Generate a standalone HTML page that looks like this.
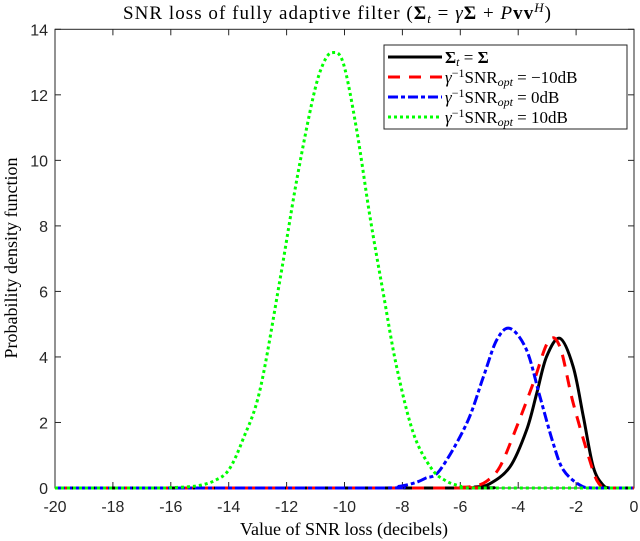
<!DOCTYPE html>
<html><head><meta charset="utf-8"><style>
body{margin:0;background:#fff;}
svg{display:block;}
text{font-family:"Liberation Sans",sans-serif;}
.serif{font-family:"Liberation Serif",serif;}
</style></head><body>
<svg id="chart" width="640" height="541" viewBox="0 0 640 541" xmlns="http://www.w3.org/2000/svg">
<rect width="640" height="541" fill="#fff"/>
<text class="serif" x="123" y="19" font-size="19" textLength="428" lengthAdjust="spacing" fill="#000">SNR loss of fully adaptive filter (<tspan font-weight="bold">Σ</tspan><tspan font-style="italic" font-size="13" dy="4">t</tspan><tspan dy="-4"> = </tspan><tspan font-style="italic">γ</tspan><tspan font-weight="bold">Σ</tspan> + <tspan font-style="italic">P</tspan><tspan font-weight="bold">vv</tspan><tspan font-style="italic" font-size="13" dy="-7">H</tspan><tspan dy="7">)</tspan></text>
<g id="axes"></g>
<g id="series"></g>
<text class="serif" x="344" y="535" font-size="18" text-anchor="middle" fill="#000">Value of SNR loss (decibels)</text>
<text class="serif" transform="translate(17,258) rotate(-90)" font-size="18" text-anchor="middle" fill="#000">Probability density function</text>
<g>
<rect x="384" y="45" width="243" height="84" fill="#fff" stroke="#262626" stroke-width="1"/>
<line x1="388" y1="57" x2="442" y2="57" stroke="#000" stroke-width="3"/>
<line x1="388" y1="77" x2="442" y2="77" stroke="#f00" stroke-width="3" stroke-dasharray="12,9"/>
<line x1="388" y1="97" x2="442" y2="97" stroke="#00f" stroke-width="3" stroke-dasharray="10,3,4,3"/>
<line x1="388" y1="117" x2="442" y2="117" stroke="#0f0" stroke-width="3" stroke-dasharray="3,3"/>
<text class="serif" x="445" y="63" font-size="17"><tspan font-weight="bold">Σ</tspan><tspan font-style="italic" font-size="12" dy="3">t</tspan><tspan dy="-3"> = </tspan><tspan font-weight="bold">Σ</tspan></text>
<text class="serif" x="445" y="83" font-size="17"><tspan font-style="italic">γ</tspan><tspan font-size="12" dy="-6">−1</tspan><tspan dy="6">SNR</tspan><tspan font-style="italic" font-size="12" dy="3">opt</tspan><tspan dy="-3"> = −10dB</tspan></text>
<text class="serif" x="445" y="103" font-size="17"><tspan font-style="italic">γ</tspan><tspan font-size="12" dy="-6">−1</tspan><tspan dy="6">SNR</tspan><tspan font-style="italic" font-size="12" dy="3">opt</tspan><tspan dy="-3"> = 0dB</tspan></text>
<text class="serif" x="445" y="123" font-size="17"><tspan font-style="italic">γ</tspan><tspan font-size="12" dy="-6">−1</tspan><tspan dy="6">SNR</tspan><tspan font-style="italic" font-size="12" dy="3">opt</tspan><tspan dy="-3"> = 10dB</tspan></text>
</g>
</svg>
<script>
const xTicks = [-20,-18,-16,-14,-12,-10,-8,-6,-4,-2,0];
const yTicks = [0,2,4,6,8,10,12,14];
const blackX = [-20,-6,-5.5,-5,-4.28,-3.71,-3.36,-3.02,-2.56,-2.10,-1.75,-1.41,-1.07,-0.8,0];
const blackY = [0,0,0.03,0.12,0.65,1.77,2.89,4.01,4.57,3.70,2.18,0.65,0.09,0,0];
const redX = [-20,-6.5,-6,-5.5,-5.1,-4.63,-4.05,-3.48,-2.96,-2.56,-2.10,-1.46,-1.2,-0.9,0];
const redY = [0,0,0.02,0.06,0.2,0.65,1.87,3.20,4.47,4.31,2.59,0.65,0.12,0,0];
const blueX = [-20,-9,-8.2,-7.6,-7.2,-6.70,-5.78,-5.20,-4.74,-4.28,-3.71,-3.25,-2.79,-2.44,-1.87,-1.4,0];
const blueY = [0,0,0.04,0.15,0.3,0.55,1.97,3.40,4.52,4.87,4.21,2.79,1.36,0.55,0.09,0,0];
const greenX = [-20,-16.5,-16,-15.5,-15,-14.5,-14,-13.5,-12.92,-12.23,-11.65,-11.08,-10.73,-10.41,-10.04,-9.58,-9.12,-8.66,-8.20,-7.62,-7.0,-6.5,-6,-5.5,0];
const greenY = [0,0,0.01,0.03,0.08,0.22,0.55,1.5,2.99,6.35,9.40,11.94,12.96,13.29,12.96,10.93,8.28,5.94,3.70,1.67,0.6,0.22,0.06,0,0];

const X0=55, X1=634, Y0=488, Y1=29.3;
function sx(v){return X0+(v+20)/20*(X1-X0);}
function sy(v){return Y0-v/14*(Y0-Y1);}
const NS='http://www.w3.org/2000/svg';
function mk(tag,attrs,parent){const e=document.createElementNS(NS,tag);for(const k in attrs)e.setAttribute(k,attrs[k]);parent.appendChild(e);return e;}
const axes=document.getElementById('axes');
const series=document.getElementById('series');
const fr=mk('rect',{x:X0,y:Y1,width:X1-X0,height:Y0-Y1,fill:'none',stroke:'#262626','stroke-width':1},axes);


xTicks.forEach(t=>{
  const x=sx(t);
  mk('line',{x1:x,y1:Y0,x2:x,y2:Y0-6,stroke:'#262626'},axes);
  mk('line',{x1:x,y1:Y1,x2:x,y2:Y1+6,stroke:'#262626'},axes);
  const tx=mk('text',{x:x,y:Y0+24,'font-size':16,'text-anchor':'middle',fill:'#262626'},axes);
  tx.textContent=String(t);
  
  
});
yTicks.forEach(t=>{
  const y=sy(t);
  mk('line',{x1:X0,y1:y,x2:X0+6,y2:y,stroke:'#262626'},axes);
  mk('line',{x1:X1,y1:y,x2:X1-6,y2:y,stroke:'#262626'},axes);
  const tx=mk('text',{x:X0-7,y:y+6,'font-size':16,'text-anchor':'end',fill:'#262626'},axes);
  tx.textContent=String(t);
  
  
});
function smoothPath(xs,ys){
  const p=xs.map((x,i)=>[sx(x),sy(ys[i])]);
  let d='M'+p[0][0]+','+p[0][1];
  for(let i=0;i<p.length-1;i++){
    const a=p[Math.max(0,i-1)],b=p[i],c=p[i+1],e=p[Math.min(p.length-1,i+2)];
    let c1y=b[1]+(c[1]-a[1])/6, c2y=c[1]-(e[1]-b[1])/6;
    c1y=Math.min(c1y,Y0); c2y=Math.min(c2y,Y0);
    d+=' C'+(b[0]+(c[0]-a[0])/6)+','+c1y+' '+(c[0]-(e[0]-b[0])/6)+','+c2y+' '+c[0]+','+c[1];
  }
  return d;
}
const kp=mk('path',{d:smoothPath(blackX,blackY),fill:'none',stroke:'#000','stroke-width':3},series);


const rp=mk('path',{d:smoothPath(redX,redY),fill:'none',stroke:'#ff0000','stroke-width':3,'stroke-dasharray':'12,9'},series);


const bp=mk('path',{d:smoothPath(blueX,blueY),fill:'none',stroke:'#0000ff','stroke-width':3,'stroke-dasharray':'10,3,4,3'},series);


const gp=mk('path',{d:smoothPath(greenX,greenY),fill:'none',stroke:'#00ff00','stroke-width':3,'stroke-dasharray':'3,3'},series);


</script>
</body></html>
